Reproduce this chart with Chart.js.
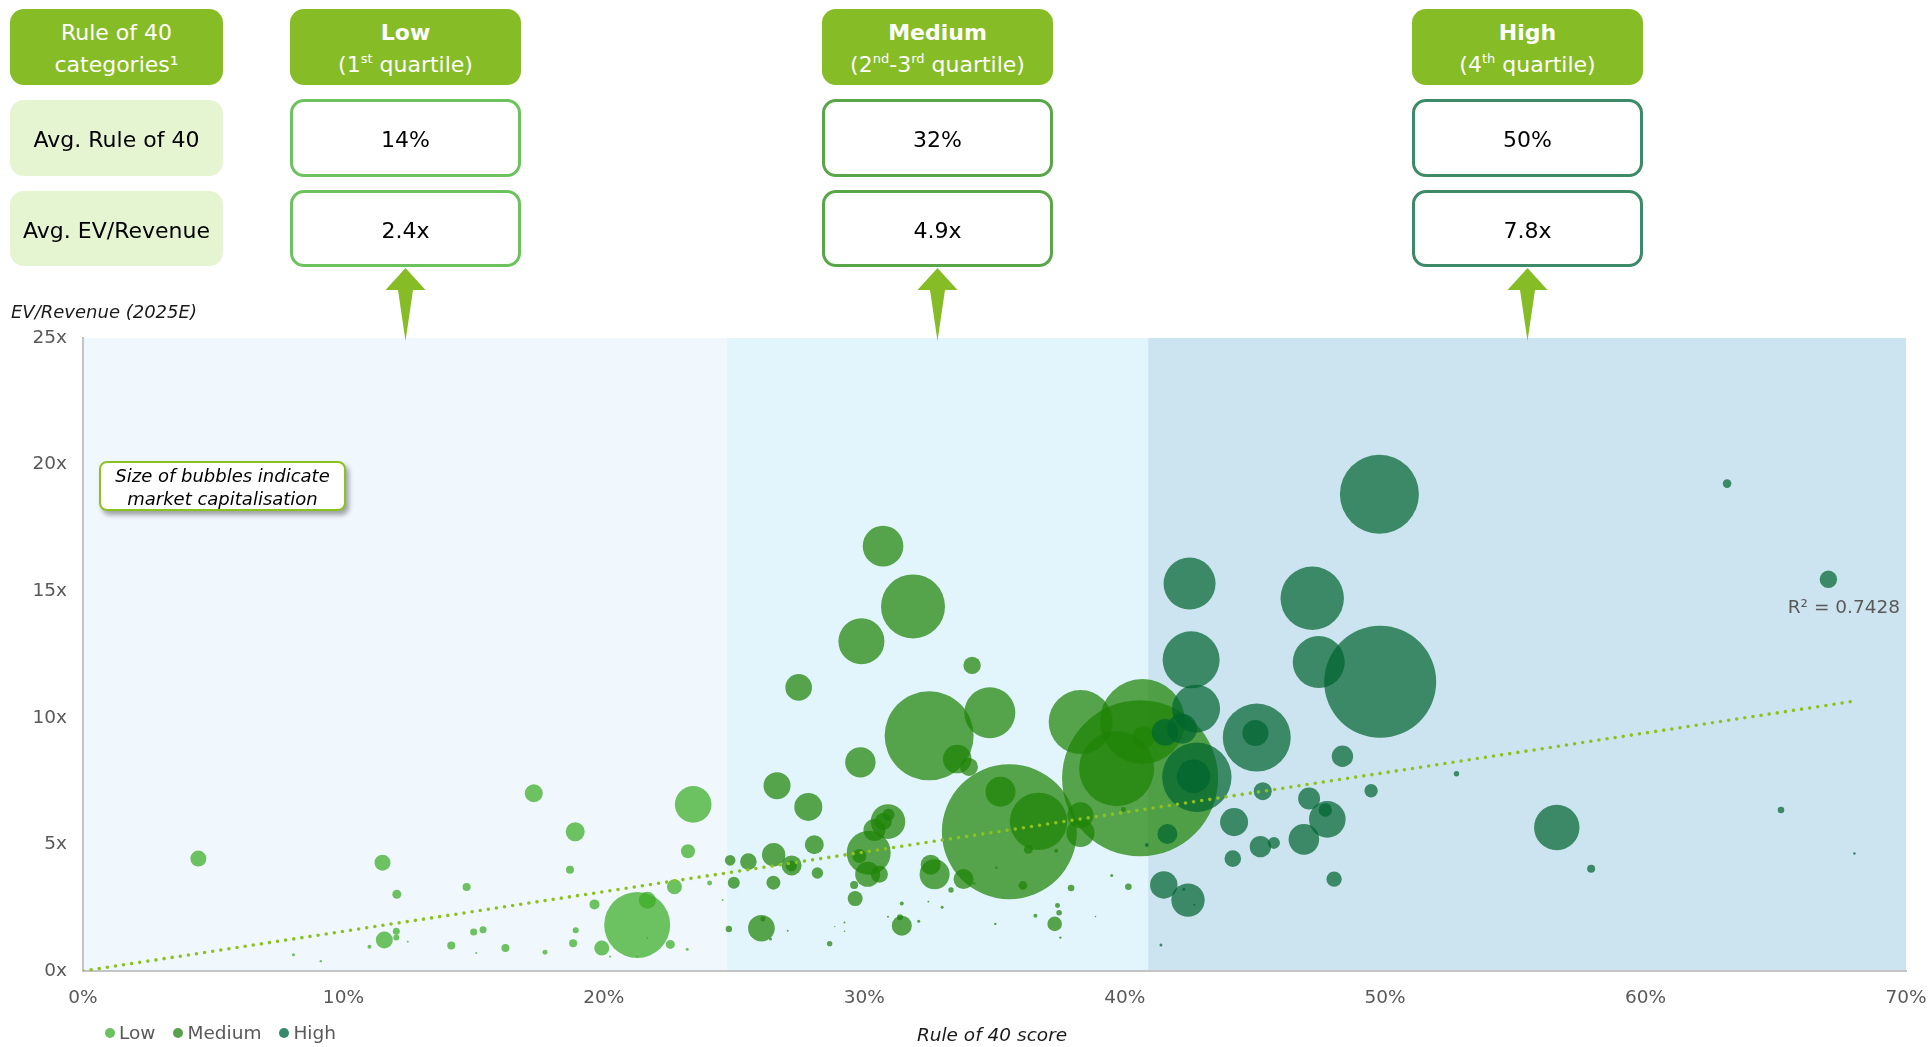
<!DOCTYPE html>
<html>
<head>
<meta charset="utf-8">
<script src="https://cdn.jsdelivr.net/npm/chart.js@4.4.1/dist/chart.umd.min.js"></script>
<style>
  body { margin: 0; width: 1929px; height: 1047px; background: #fff; position: relative; overflow: hidden;
         font-family: "DejaVu Sans", Verdana, sans-serif; }
  #myChart { position: absolute; left: 0; top: 0; }
  .cell { position: absolute; box-sizing: border-box; border-radius: 14px; display: flex; flex-direction: column;
          align-items: center; justify-content: center; text-align: center; font-size: 22px; line-height: 32px; }
  .head { background: #86bc25; color: #fff; padding-top: 3px; }
  .head sup { font-size: 13px; line-height: 0; vertical-align: 9px; }
  .rowlab { background: #e5f4d1; color: #000; padding-top: 4px; }
  .val { background: #fff; border: 3px solid; color: #000; padding-top: 4px; }
  .txt { position: absolute; white-space: nowrap; }
  #legend { position: absolute; left: 105px; top: 1022px; display: flex; align-items: center; font-size: 18.5px; color: #595959; }
  #legend span.dot { width: 10px; height: 10px; border-radius: 50%; display: inline-block; margin-right: 4px; }
  #legend span.lab { margin-right: 18px; }
  #callout { position: absolute; left: 99px; top: 461px; width: 247px; height: 50px; box-sizing: border-box;
             border: 2px solid #8cc21f; border-radius: 8px; background: #fff; box-shadow: 3px 4px 5px rgba(0,0,0,0.35);
             font-style: italic; font-size: 18px; line-height: 23px; text-align: center; padding-top: 1px; }
</style>
</head>
<body>
<canvas id="myChart" width="1929" height="1047"></canvas>

<!-- tabla superior -->
<div class="cell head" style="left:10px;top:9px;width:213px;height:76px;">Rule of 40<br>categories¹</div>
<div class="cell rowlab" style="left:10px;top:100px;width:213px;height:76px;">Avg. Rule of 40</div>
<div class="cell rowlab" style="left:10px;top:191px;width:213px;height:75px;">Avg. EV/Revenue</div>

<div class="cell head" style="left:290px;top:9px;width:231px;height:76px;"><b>Low</b><span>(1<sup>st</sup> quartile)</span></div>
<div class="cell val" style="left:290px;top:99px;width:231px;height:78px;border-color:#6cc35e;">14%</div>
<div class="cell val" style="left:290px;top:190px;width:231px;height:77px;border-color:#6cc35e;">2.4x</div>

<div class="cell head" style="left:822px;top:9px;width:231px;height:76px;"><b>Medium</b><span>(2<sup>nd</sup>-3<sup>rd</sup> quartile)</span></div>
<div class="cell val" style="left:822px;top:99px;width:231px;height:78px;border-color:#58a648;">32%</div>
<div class="cell val" style="left:822px;top:190px;width:231px;height:77px;border-color:#58a648;">4.9x</div>

<div class="cell head" style="left:1412px;top:9px;width:231px;height:76px;"><b>High</b><span>(4<sup>th</sup> quartile)</span></div>
<div class="cell val" style="left:1412px;top:99px;width:231px;height:78px;border-color:#3c8a68;">50%</div>
<div class="cell val" style="left:1412px;top:190px;width:231px;height:77px;border-color:#3c8a68;">7.8x</div>

<svg id="arrows" width="1929" height="1047" style="position:absolute;left:0;top:0;pointer-events:none;"></svg>

<div class="txt" style="left:11px;top:301px;font-size:18px;font-style:italic;color:#1a1a1a;">EV/Revenue (2025E)</div>
<div class="txt" style="left:992px;top:1024px;transform:translateX(-50%);font-size:18.5px;font-style:italic;color:#1a1a1a;">Rule of 40 score</div>
<div class="txt" style="right:29px;top:596px;font-size:18.5px;color:#595959;">R² = 0.7428</div>
<div id="callout">Size of bubbles indicate<br>market capitalisation</div>
<div id="legend"></div>

<script>
// Rule of 40 (%) / EV/Revenue (x) / market cap (relative)
const lowX = [4.43, 11.5, 12.05, 14.73, 11.57, 12.03, 12.03, 12.47, 11.0, 8.08, 9.13, 14.14, 15.0, 15.36, 15.1, 16.22,
  17.74, 17.31, 18.9, 18.7, 18.92, 18.82, 23.43, 23.23, 22.71, 19.64, 21.28, 21.67, 19.92, 22.55, 23.2, 20.24, 24.56,
  24.06, 21.67, 21.28];
const lowY = [4.44, 4.28, 3.03, 3.32, 1.22, 1.57, 1.32, 1.16, 0.96, 0.64, 0.39, 1.01, 1.54, 1.63, 0.71, 0.91,
  0.74, 7.02, 5.5, 4.0, 1.61, 1.1, 6.58, 4.73, 3.33, 2.63, 1.82, 2.79, 0.91, 1.05, 0.86, 0.57, 2.8,
  3.48, 1.3, 0.57];
const lowCap = [7.11, 7.11, 2.25, 1.78, 8.03, 1.36, 1.0, 0.11, 0.44, 0.25, 0.16, 1.78, 1.36, 1.36, 0.11, 1.78,
  0.69, 9.0, 10.0, 1.78, 1.0, 1.78, 37.2, 5.44, 6.25, 2.78, 121, 8.03, 6.25, 2.25, 0.25, 0.11, 0.11,
  0.69, 0.11, 0.07];

const medX = [30.72, 31.87, 29.89, 34.14, 27.48, 32.49, 34.82, 29.85, 33.57, 34.02, 35.57, 35.23, 36.69, 26.65, 27.85,
  30.91, 30.93, 30.39, 30.73, 30.17, 29.81, 30.13, 30.58, 28.08, 26.52, 25.55, 24.85, 27.21, 27.2, 28.2, 24.99, 26.51,
  29.61, 29.65, 32.55, 32.7, 33.81, 33.33, 32.99, 32.46, 31.44, 31.44, 31.37, 30.91, 32.09, 26.05, 26.11, 26.4, 24.8,
  27.06, 28.67, 29.24, 29.24, 28.87, 35.03, 35.07, 34.22, 36.09, 36.3, 37.37, 37.94, 37.42, 37.48, 37.31, 37.53, 36.57,
  38.31, 40.68, 40.59, 39.69, 40.73, 38.3, 38.3, 39.95, 40.14, 39.5, 38.88];
const medY = [16.78, 14.4, 13.02, 12.07, 11.2, 9.29, 10.2, 8.24, 8.37, 8.06, 5.5, 7.08, 5.91, 7.32, 6.48,
  5.9, 6.17, 5.57, 5.9, 4.67, 4.54, 3.82, 3.82, 4.99, 4.59, 4.32, 4.37, 4.17, 4.15, 3.87, 3.49, 3.49,
  3.4, 2.86, 4.2, 3.82, 3.63, 3.2, 2.52, 2.74, 2.67, 1.79, 2.12, 2.14, 1.96, 1.69, 2.05, 1.26, 1.66,
  1.59, 1.08, 1.92, 1.57, 1.75, 1.86, 4.08, 3.46, 3.38, 4.81, 4.75, 3.28, 2.59, 2.3, 1.86, 1.32, 2.18,
  9.83, 9.85, 7.61, 7.99, 9.23, 6.15, 5.45, 6.38, 3.33, 3.77, 2.15];
const medCap = [45.8, 113.8, 58.8, 8.41, 19.7, 220, 72.3, 25.7, 22.7, 9.0, 506, 25.0, 91.5, 20.3, 21.8,
  33.3, 4.0, 13.4, 8.03, 53.8, 5.44, 17.4, 8.03, 10.0, 15.2, 7.65, 3.12, 11.1, 3.36, 3.61, 4.0, 5.44,
  1.78, 6.25, 11.1, 25.0, 11.1, 0.81, 0.25, 0.11, 0.44, 11.1, 1.0, 0.11, 0.25, 19.7, 0.69, 0.25, 1.14,
  0.11, 0.81, 0.11, 0.07, 0.04, 0.16, 0.16, 0.16, 2.05, 2.25, 0.44, 1.21, 0.69, 0.87, 5.92, 0.16, 0.44,
  113.8, 200.7, 676, 156.3, 13.4, 18.8, 21.8, 0.69, 1.21, 0.25, 0.07];

const highX = [49.78, 42.49, 47.2, 42.55, 47.45, 49.81, 42.74, 45.07, 45.02, 42.77, 42.64, 41.55, 42.2, 48.36, 49.46,
  52.74, 45.3, 47.08, 47.78, 47.7, 44.2, 46.88, 45.21, 45.73, 44.15, 41.64, 40.85, 48.04, 41.5, 42.43, 42.27, 42.67,
  41.39, 56.59, 57.91, 63.13, 67.02, 65.2, 68.02];
const highY = [18.83, 15.3, 14.72, 12.29, 12.2, 11.42, 10.36, 9.22, 9.4, 7.65, 7.69, 9.43, 9.57, 8.48, 7.12,
  7.79, 7.1, 6.81, 5.99, 6.36, 5.88, 5.2, 4.91, 5.06, 4.44, 5.41, 4.98, 3.63, 3.4, 2.8, 3.23, 2.62,
  1.03, 5.67, 4.04, 19.25, 15.47, 6.36, 4.64];
const highCap = [173.4, 75.1, 111.7, 90.3, 75.1, 348.4, 64.0, 128.4, 18.8, 133.8, 31.0, 19.7, 25.0, 12.7, 4.99,
  0.81, 9.0, 13.4, 37.2, 4.99, 21.8, 26.0, 12.7, 4.0, 7.65, 11.1, 0.44, 6.59, 20.9, 31.0, 0.25, 0.11,
  0.25, 57.3, 1.78, 2.05, 8.41, 1.21, 0.19];

// linea de tendencia (lineal) y cortes de cuartiles
const trendX = [0, 67.9];
const trendY = [0, 10.64];
const bandCuts = [0, 24.73, 40.9, 70];
const seriesNames = ["Low", "Medium", "High"];

const bandColors = ["#f0f8fd", "#e3f5fc", "#cce4f0"];
const bubbleColors = ["rgba(57,172,35,0.72)", "rgba(30,131,5,0.72)", "rgba(0,100,47,0.71)"];
const legendColors = ["#6cc160", "#56a34b", "#35886a"];

function toBubbles(xs, ys, caps) {
  return xs.map((x, i) => ({ x: x, y: ys[i], r: 3 * Math.sqrt(caps[i]) }));
}

const bandPlugin = {
  id: "bands",
  beforeDraw(chart) {
    const { ctx, chartArea, scales } = chart;
    ctx.save();
    for (let i = 0; i < bandColors.length; i++) {
      const x0 = scales.x.getPixelForValue(bandCuts[i]);
      const x1 = scales.x.getPixelForValue(bandCuts[i + 1]);
      ctx.fillStyle = bandColors[i];
      ctx.fillRect(x0, chartArea.top, x1 - x0, chartArea.bottom - chartArea.top);
    }
    ctx.restore();
  },
};

const tickFont = { family: "DejaVu Sans", size: 18.5 };

const config = {
  type: "bubble",
  data: {
    datasets: [
      {
        type: "line",
        label: "Trend",
        data: trendX.map((x, i) => ({ x: x, y: trendY[i] })),
        borderColor: "#8cc21f",
        borderWidth: 3.6,
        borderDash: [0, 8.2],
        borderCapStyle: "round",
        pointRadius: 0,
        fill: false,
        order: 0,
      },
      { label: seriesNames[2], data: toBubbles(highX, highY, highCap), backgroundColor: bubbleColors[2], borderWidth: 0, order: 1 },
      { label: seriesNames[1], data: toBubbles(medX, medY, medCap), backgroundColor: bubbleColors[1], borderWidth: 0, order: 2 },
      { label: seriesNames[0], data: toBubbles(lowX, lowY, lowCap), backgroundColor: bubbleColors[0], borderWidth: 0, order: 3 },
    ],
  },
  options: {
    responsive: false,
    animation: false,
    devicePixelRatio: 1,
    layout: { autoPadding: false, padding: { left: 0, right: 23, top: 338, bottom: 16 } },
    plugins: { legend: { display: false }, tooltip: { enabled: false } },
    scales: {
      x: {
        type: "linear",
        min: 0,
        max: 70,
        grid: { display: false, drawTicks: false },
        border: { display: true, color: "#c4c4c4", width: 2 },
        ticks: { stepSize: 10, padding: 16, color: "#595959", font: tickFont, callback: (v) => v + "%" },
        afterFit: (scale) => {
          scale.height = 60;
          scale.paddingLeft = 0;
          scale.paddingRight = 0;
        },
      },
      y: {
        type: "linear",
        min: 0,
        max: 25,
        grid: { display: false, drawTicks: false },
        border: { display: true, color: "#c4c4c4", width: 2 },
        ticks: { stepSize: 5, padding: 16, color: "#595959", font: tickFont, callback: (v) => v + "x" },
        afterFit: (scale) => {
          scale.width = 83;
          scale.paddingTop = 0;
          scale.paddingBottom = 0;
        },
      },
    },
  },
  plugins: [bandPlugin],
};

const chartDOM = document.getElementById("myChart").getContext("2d");
let miGrafica = new Chart(chartDOM, config);

// leyenda
const legend = document.getElementById("legend");
seriesNames.forEach((name, i) => {
  legend.innerHTML += `<span class="dot" style="background:${legendColors[i]}"></span><span class="lab">${name}</span>`;
});

// flechas hacia el grafico
const arrows = document.getElementById("arrows");
[405.5, 937.5, 1527.5].forEach((cx) => {
  const pts = [[cx, 268], [cx + 20, 290], [cx + 7.5, 290], [cx, 341], [cx - 7.5, 290], [cx - 20, 290]];
  arrows.innerHTML += `<polygon points="${pts.map((p) => p.join(",")).join(" ")}" fill="#86bc25"/>`;
});
</script>
</body>
</html>
